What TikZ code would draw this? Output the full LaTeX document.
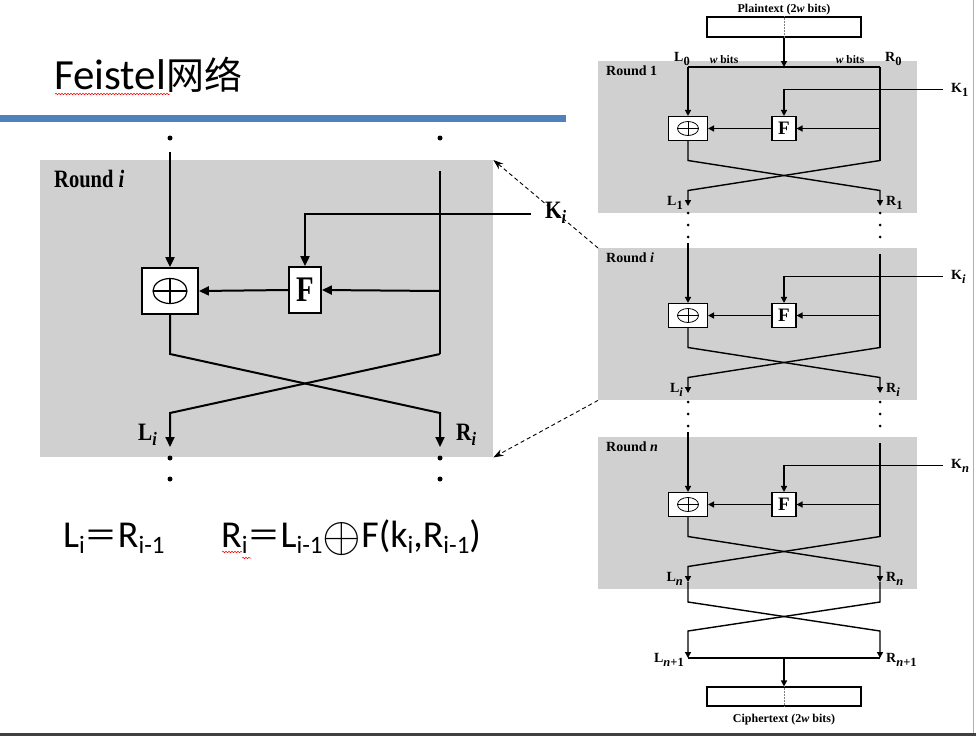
\documentclass[tikz,border=0pt]{standalone}
\usepackage{fontspec}
\usepackage{graphicx}
\setmainfont{Liberation Serif}
\newfontfamily\calib{Carlito}
\newfontfamily\cjk{Noto Sans CJK SC}
\usetikzlibrary{arrows.meta,decorations.pathmorphing}

\definecolor{boxgray}{RGB}{208,208,208}
\definecolor{slideblue}{RGB}{79,129,189}
\definecolor{bardark}{RGB}{64,64,64}
\definecolor{edgegray}{RGB}{175,175,175}

% formula subscript, small-panel subscript, big-panel subscript
\newcommand\fsub[1]{\raisebox{-6.5pt}{\fontsize{25}{25}\selectfont #1}}
\newcommand\ssub[1]{\raisebox{-3.5pt}{\fontsize{12.5}{12.5}\selectfont #1}}
\newcommand\bsub[1]{\raisebox{-5pt}{\fontsize{19}{19}\selectfont #1}}
\newcommand\bigxor{\raisebox{-4.5pt}{\scalebox{2}{$\oplus$}}}

\tikzset{
  lineB/.style={line width=2pt},
  lineS/.style={line width=1.4pt},
  tipB/.style={-{Triangle[length=10pt,width=9pt]}},
  tipS/.style={-{Triangle[length=6pt,width=6pt]}},
  roundbox/.style={fill=boxgray, draw=none, inner sep=0pt},
  opboxB/.style={draw, fill=white, inner sep=0pt, line width=1.8pt},
  opboxS/.style={draw, fill=white, inner sep=0pt, line width=1.1pt},
  dotmark/.style={circle, fill=black, inner sep=0pt, minimum size=#1},
  dotmark/.default=3pt,
  labS/.style={font=\bfseries\fontsize{14}{14}\selectfont, inner sep=0pt},
  labT/.style={font=\bfseries\fontsize{11.5}{12}\selectfont, inner sep=0pt},
  labB/.style={font=\bfseries\fontsize{25}{25}\selectfont, inner sep=0pt},
  eqtext/.style={anchor=base west, inner sep=0pt, font=\calib\fontsize{38}{42}\selectfont},
  dashlink/.style={dash pattern=on 4pt off 3pt, line width=0.9pt, -{Stealth[length=10pt,width=7pt]}},
  squiggle/.style={red, line width=0.5pt, decorate, decoration={snake, segment length=3pt, amplitude=0.8pt}},
}

% one round of the right-hand chain: #1 prefix, #2 top y, #3 round title, #4 K sub, #5 L sub, #6 R sub
\newcommand\feistelround[6]{%
  \node[roundbox, minimum width=319pt, minimum height=152pt, anchor=north west] (#1box) at (598,#2) {};
  \node[labS, anchor=west] (#1title) at (606,#2+10) {#3};
  \node[opboxS, minimum width=39pt, minimum height=24pt] (#1xor) at (688,#2+67.5) {};
  \draw[line width=0.8pt] (#1xor.center) ellipse (10.5 and 7);
  \draw[line width=0.8pt] ([xshift=-10.5pt]#1xor.center) -- ([xshift=10.5pt]#1xor.center);
  \draw[line width=0.8pt] ([yshift=-7pt]#1xor.center) -- ([yshift=7pt]#1xor.center);
  \node[opboxS, minimum width=24pt, minimum height=24pt, font=\bfseries\fontsize{19}{19}\selectfont] (#1F) at (784,#2+67.5) {F};
  \coordinate (#1Kin) at (943,#2+28.5);
  \coordinate (#1Kc) at (784,#2+28.5);
  \node[labS, anchor=west] (#1K) at (951,#2+29) {K\ssub{#4}};
  \coordinate (#1Rm) at (880,#2+67.5);
  \coordinate (#1La) at (688,#2+99.5);
  \coordinate (#1Ra) at (880,#2+99.5);
  \coordinate (#1Lb) at (688,#2+129.5);
  \coordinate (#1Rb) at (880,#2+129.5);
  \coordinate (#1Lo) at (688,#2+145);
  \coordinate (#1Ro) at (880,#2+145);
  \node[labS, anchor=east] (#1Ll) at (683,#2+142) {L\ssub{#5}};
  \node[labS, anchor=west] (#1Rl) at (886,#2+142) {R\ssub{#6}};
  \draw[lineS,tipS] (#1Kin) -- (#1Kc) -- (#1F.north);
  \draw[lineS,tipS] (#1Rm) -- (#1F.east);
  \draw[lineS,tipS] (#1F.west) -- (#1xor.east);
  \draw[lineS,tipS] (#1xor.south) -- (#1La) -- (#1Rb) -- (#1Ro);
  \draw[lineS,tipS] (#1Ra) -- (#1Lb) -- (#1Lo);
}

\begin{document}
\begin{tikzpicture}[x=1pt,y=-1pt]
\useasboundingbox (0,0) rectangle (976,736);
\fill[white] (0,0) rectangle (976,736);

% ---------- slide title ----------
\node[anchor=base west, inner sep=0pt] (title) at (54,89)
  {\calib\fontsize{43}{50}\selectfont Feistel{\cjk\fontsize{38}{44}\selectfont 网络}};
\draw[squiggle] (55,94) -- (170,94);
\fill[slideblue] (0,115) rectangle (566,122);

% ---------- left: enlarged round i ----------
\node[roundbox, minimum width=453pt, minimum height=297pt, anchor=north west] (roundL) at (40,160) {};
\node[labB, anchor=west] (rtitleL) at (54,179) {\scalebox{0.82}[1]{Round \textit{i}}};
\node[dotmark=5pt] (dLt) at (170,138) {};
\node[dotmark=5pt] (dRt) at (440,138) {};
\node[opboxB, minimum width=56pt, minimum height=46pt] (xorL) at (170,291) {};
\draw[line width=1.2pt] (xorL.center) ellipse (17 and 12.5);
\draw[line width=1.2pt] ([xshift=-17pt]xorL.center) -- ([xshift=17pt]xorL.center);
\draw[line width=1.2pt] ([yshift=-12.5pt]xorL.center) -- ([yshift=12.5pt]xorL.center);
\node[opboxB, minimum width=32pt, minimum height=46pt] (FL) at (305,290)
  {\bfseries\scalebox{0.8}[1]{\fontsize{36}{36}\selectfont F}};
\coordinate (LtopL) at (170,152);
\coordinate (RtopL) at (440,171);
\coordinate (RmidL) at (440,291);
\coordinate (KinL) at (531,214);
\coordinate (KcL) at (305,214);
\coordinate (LaL) at (170,354);
\coordinate (RaL) at (440,354);
\coordinate (LbL) at (170,413);
\coordinate (RbL) at (440,413);
\coordinate (LoL) at (170,447);
\coordinate (RoL) at (440,447);
\draw[lineB,tipB] (LtopL) -- (xorL.north);
\draw[lineB] (RtopL) -- (RaL);
\draw[lineB,tipB] (KinL) -- (KcL) -- (FL.north);
\draw[lineB,tipB] (RmidL) -- (FL.east);
\draw[lineB,tipB] (FL.west) -- (xorL.east);
\draw[lineB,tipB] (xorL.south) -- (LaL) -- (RbL) -- (RoL);
\draw[lineB,tipB] (RaL) -- (LbL) -- (LoL);
\node[labB, anchor=east] (LiL) at (157,435) {\scalebox{0.85}[1]{L\bsub{\textit{i}}}};
\node[labB, anchor=west] (RiL) at (456,435) {\scalebox{0.85}[1]{R\bsub{\textit{i}}}};
\node[labB, anchor=west] (KiL) at (545,213) {\scalebox{0.85}[1]{K\bsub{\textit{i}}}};
\node[dotmark=5pt] (dLb1) at (170,458) {};
\node[dotmark=5pt] (dLb2) at (170,479) {};
\node[dotmark=5pt] (dRb1) at (440,458) {};
\node[dotmark=5pt] (dRb2) at (440,479) {};

% ---------- formulas ----------
\node[eqtext] (eq1) at (63,547)
  {L\fsub{i}{\cjk\fontsize{33}{33}\selectfont ＝}R\fsub{i-1}};
\node[eqtext] (eq2) at (221,547)
  {R\fsub{i}{\cjk\fontsize{33}{33}\selectfont ＝}L\fsub{i-1}\bigxor F(k\fsub{i},R\fsub{i-1})};
\draw[squiggle] (222,552) -- (242,552);
\draw[squiggle] (242,558) -- (251,558);

% ---------- right: full chain ----------
\node[labT, font=\bfseries\fontsize{12}{12}\selectfont] (ptlab) at (784,10) {Plaintext (2\textit{w} bits)};
\node[draw, line width=1.1pt, minimum width=154pt, minimum height=20pt, inner sep=0pt] (ptbox) at (784,27) {};
\draw[densely dotted, gray, line width=0.5pt] (ptbox.north) -- (ptbox.south);

\feistelround{r1}{61}{Round 1}{1}{1}{1}
\feistelround{ri}{248}{Round \textit{i}}{\textit{i}}{\textit{i}}{\textit{i}}
\feistelround{rn}{437}{Round \textit{n}}{\textit{n}}{\textit{n}}{\textit{n}}

% round 1 inputs
\coordinate (r1top) at (784,67);
\coordinate (r1TL) at (688,67);
\coordinate (r1TR) at (880,67);
\draw[lineS,tipS] (ptbox.south) -- (r1top);
\draw[lineS] (r1TL) -- (r1TR);
\draw[lineS,tipS] (r1TL) -- (r1xor.north);
\draw[lineS] (r1TR) -- (r1Ra);
\node[labS, anchor=east] (L0) at (690,59) {L\ssub{0}};
\node[labT] (wbL) at (724,60) {\textit{w} bits};
\node[labT] (wbR) at (850,60) {\textit{w} bits};
\node[labS, anchor=west] (R0) at (885,59) {R\ssub{0}};

% dots between rounds
\foreach \yy [count=\k] in {213,225,237,402,414,426}{
  \node[dotmark] (dl\k) at (688,\yy) {};
  \node[dotmark] (dr\k) at (880,\yy) {};
}

% round i / n inputs
\coordinate (riTL) at (688,243);
\coordinate (riTR) at (880,254);
\draw[lineS,tipS] (riTL) -- (rixor.north);
\draw[lineS] (riTR) -- (riRa);
\coordinate (rnTL) at (688,432);
\coordinate (rnTR) at (880,443);
\draw[lineS,tipS] (rnTL) -- (rnxor.north);
\draw[lineS] (rnTR) -- (rnRa);

% final swap
\coordinate (fLa) at (688,602);
\coordinate (fRa) at (880,602);
\coordinate (fLb) at (688,631);
\coordinate (fRb) at (880,631);
\coordinate (fLo) at (688,658);
\coordinate (fRo) at (880,658);
\coordinate (fMid) at (784,658);
\draw[lineS,tipS] (rnLo) -- (fLa) -- (fRb) -- (fRo);
\draw[lineS,tipS] (rnRo) -- (fRa) -- (fLb) -- (fLo);
\draw[lineS] (fLo) -- (fRo);
\node[labS, anchor=east] (Ln1) at (684,660) {L\ssub{\textit{n}+1}};
\node[labS, anchor=west] (Rn1) at (886,660) {R\ssub{\textit{n}+1}};
\node[draw, line width=1.1pt, minimum width=154pt, minimum height=19pt, inner sep=0pt] (ctbox) at (784,696.5) {};
\draw[densely dotted, gray, line width=0.5pt] (ctbox.north) -- (ctbox.south);
\draw[lineS,tipS] (fMid) -- (ctbox.north);
\node[labT, font=\bfseries\fontsize{12}{12}\selectfont] (ctlab) at (784,720) {Ciphertext (2\textit{w} bits)};

% ---------- dashed zoom links ----------
\draw[dashlink] (ribox.north west) -- (roundL.north east);
\draw[dashlink] (ribox.south west) -- (roundL.south east);

% ---------- slide frame ----------
\draw[edgegray, line width=0.8pt] (973,0) -- (973,733);
\fill[bardark] (0,733) rectangle (976,736);
\end{tikzpicture}
\end{document}
